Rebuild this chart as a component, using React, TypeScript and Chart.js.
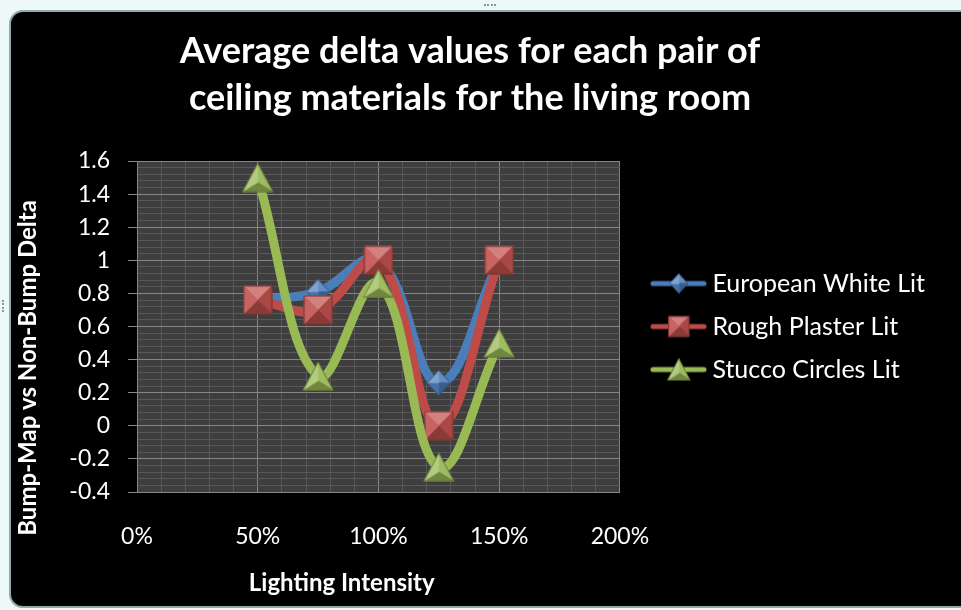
import React, { useEffect, useRef } from "react";
import { Chart, registerables } from "chart.js";

Chart.register(...registerables);

// ---------- data ----------
const lightingIntensity = [0.5, 0.75, 1.0, 1.25, 1.5];
const europeanWhiteLit = [0.76, 0.81, 1.0, 0.26, 1.0];
const roughPlasterLit = [0.76, 0.7, 1.0, 0.0, 1.0];
const stuccoCirclesLit = [1.5, 0.3, 0.86, -0.25, 0.5];
const seriesNames = ["European White Lit", "Rough Plaster Lit", "Stucco Circles Lit"];
const xTickValues = [0, 0.5, 1, 1.5, 2];
const xTickLabels = ["0%", "50%", "100%", "150%", "200%"];
const titleLines = ["Average delta values for each pair of", "ceiling materials for the living room"];
const xTitle = "Lighting Intensity";
const yTitle = "Bump-Map vs Non-Bump Delta";

// ---------- styles ----------
const FONT = "Lato";
const lineColors = ["#4a7ebb", "#be4b48", "#98b954"];
const markerColors = ["#4f81bd", "#c0504d", "#9bbb59"];
const markerShapes = ["diamond", "square", "triangle"];
const MAJOR = "#868686";
const MINOR = "#585858";
const PLOT_BG = "#3e3e3e";

function rgb(h: string) {
  return [parseInt(h.slice(1, 3), 16), parseInt(h.slice(3, 5), 16), parseInt(h.slice(5, 7), 16)];
}
function tint(h: string, k: number) {
  const [r, g, b] = rgb(h);
  const t = k > 0 ? 255 : 0;
  const a = Math.abs(k);
  return `rgb(${Math.round(r + (t - r) * a)},${Math.round(g + (t - g) * a)},${Math.round(b + (t - b) * a)})`;
}
function shapePoints(shape: string, cx: number, cy: number, w: number, h: number) {
  if (shape === "diamond") return [[cx, cy - h / 2], [cx + w / 2, cy], [cx, cy + h / 2], [cx - w / 2, cy]];
  if (shape === "square") return [[cx - w / 2, cy - h / 2], [cx + w / 2, cy - h / 2], [cx + w / 2, cy + h / 2], [cx - w / 2, cy + h / 2]];
  return [[cx, cy - h / 2], [cx + w / 2, cy + h / 2], [cx - w / 2, cy + h / 2]];
}
function drawBevel(ctx: CanvasRenderingContext2D, shape: string, cx: number, cy: number, w: number, h: number, base: string) {
  const pts = shapePoints(shape, cx, cy, w, h);
  const apex = shape === "triangle" ? [cx, cy + h / 6] : [cx, cy];
  const lx = -0.4, ly = -1;
  const ln = Math.hypot(lx, ly);
  for (let i = 0; i < pts.length; i++) {
    const a = pts[i], b = pts[(i + 1) % pts.length];
    let nx = b[1] - a[1], ny = -(b[0] - a[0]);
    const nn = Math.hypot(nx, ny);
    nx /= nn; ny /= nn;
    const s = (nx * lx + ny * ly) / ln;
    const c = tint(base, s * 0.3);
    ctx.fillStyle = c;
    ctx.strokeStyle = c;
    ctx.lineWidth = 0.6;
    ctx.beginPath();
    ctx.moveTo(a[0], a[1]);
    ctx.lineTo(b[0], b[1]);
    ctx.lineTo(apex[0], apex[1]);
    ctx.closePath();
    ctx.fill();
    ctx.stroke();
  }
  ctx.strokeStyle = tint(base, -0.35);
  ctx.lineWidth = 1;
  ctx.beginPath();
  pts.forEach((p, i) => (i ? ctx.lineTo(p[0], p[1]) : ctx.moveTo(p[0], p[1])));
  ctx.closePath();
  ctx.stroke();
}
function makeCanvas(w: number, h: number, draw: (ctx: CanvasRenderingContext2D) => void) {
  const c = document.createElement("canvas");
  c.width = w;
  c.height = h;
  draw(c.getContext("2d")!);
  return c;
}
const plotSizes = [[23, 25], [28, 28], [30, 28]];
const legendSizes = [[18, 19], [20, 20], [22, 21]];

function isMult(v: number, m: number) {
  return Math.abs(v / m - Math.round(v / m)) < 1e-6;
}

const plotBg = {
  id: "plotBg",
  beforeDraw(chart: any) {
    const { ctx, chartArea: a } = chart;
    ctx.save();
    ctx.fillStyle = PLOT_BG;
    ctx.fillRect(a.left, a.top, a.right - a.left, a.bottom - a.top);
    ctx.restore();
  },
};
const axisTitles = {
  id: "axisTitles",
  afterDraw(chart: any) {
    const { ctx, chartArea: a } = chart;
    ctx.save();
    ctx.fillStyle = "#ffffff";
    ctx.textAlign = "center";
    ctx.textBaseline = "middle";
    ctx.font = `bold 24px ${FONT}`;
    ctx.fillText(xTitle, a.left + (a.right - a.left) * 0.424, a.bottom + 91);
    ctx.translate(a.left - 109, a.top + (a.bottom - a.top) * 0.625);
    ctx.rotate(-Math.PI / 2);
    ctx.fillText(yTitle, 0, 0);
    ctx.restore();
  },
};

export default function App() {
  const ref = useRef<HTMLCanvasElement>(null);
  useEffect(() => {
    const canvas = ref.current!;
    const plotMarkers = markerShapes.map((s, i) => {
      const [w, h] = plotSizes[i];
      return makeCanvas(w + 2, h + 2, (ctx) => drawBevel(ctx, s, (w + 2) / 2, (h + 2) / 2, w, h, markerColors[i]));
    });
    const legendImgs = markerShapes.map((s, i) => {
      const [w, h] = legendSizes[i];
      return makeCanvas(76, 26, (ctx) => {
        ctx.strokeStyle = lineColors[i];
        ctx.lineWidth = 5;
        ctx.lineCap = "round";
        ctx.beginPath();
        ctx.moveTo(22, 13);
        ctx.lineTo(73, 13);
        ctx.stroke();
        drawBevel(ctx, s, 48, 13, w, h, markerColors[i]);
      });
    });
    const seriesValues = [europeanWhiteLit, roughPlasterLit, stuccoCirclesLit];
    const chart = new Chart(canvas, {
      type: "line",
      data: {
        datasets: seriesValues.map((vals, i) => ({
          label: seriesNames[i],
          data: lightingIntensity.map((x, j) => ({ x, y: vals[j] })),
          borderColor: lineColors[i],
          backgroundColor: markerColors[i],
          borderWidth: 9,
          borderCapStyle: "round",
          borderJoinStyle: "round",
          tension: 0.4,
          pointStyle: plotMarkers[i],
          pointRadius: 12,
          fill: false,
          order: 3 - i,
        })),
      },
      options: {
        responsive: false,
        animation: false,
        devicePixelRatio: 1,
        layout: { padding: { left: 5, right: 26, top: 0, bottom: 0 } },
        plugins: {
          title: {
            display: true,
            text: titleLines,
            color: "#ffffff",
            font: { family: FONT, size: 36, weight: "bold", lineHeight: 1.306 },
            padding: { top: 28, bottom: 39 },
          },
          legend: {
            position: "right",
            align: "center",
            fullSize: false,
            maxWidth: 317,
            labels: {
              usePointStyle: true,
              pointStyleWidth: 62,
              padding: 18,
              color: "#ffffff",
              font: { family: FONT, size: 25 },
              generateLabels: () =>
                seriesNames.map((t, i) => ({
                  text: t,
                  pointStyle: legendImgs[i],
                  fillStyle: "transparent",
                  strokeStyle: "transparent",
                  lineWidth: 0,
                  hidden: false,
                  datasetIndex: i,
                  fontColor: "#ffffff",
                })),
            },
          },
          tooltip: { enabled: false },
        },
        scales: {
          x: {
            type: "linear",
            min: 0,
            max: 2,
            afterFit: (s: any) => { s.height = 118; },
            ticks: {
              stepSize: 0.1,
              autoSkip: false,
              maxRotation: 0,
              minRotation: 0,
              padding: 31,
              color: "#ffffff",
              font: { family: FONT, size: 23 },
              callback: (v: any) => {
                const k = xTickValues.findIndex((t) => Math.abs(t - v) < 1e-6);
                return k >= 0 ? xTickLabels[k] : "";
              },
            },
            grid: {
              drawTicks: false,
              color: (c: any) => (isMult(c.tick.value, 0.5) ? MAJOR : MINOR),
            },
            border: { color: MAJOR },
          },
          y: {
            type: "linear",
            min: -0.4,
            max: 1.6,
            afterFit: (s: any) => { s.width = 132; },
            ticks: {
              stepSize: 0.04,
              autoSkip: false,
              padding: 18,
              color: "#ffffff",
              font: { family: FONT, size: 23 },
              callback: (v: any) => (isMult(v, 0.2) ? String(Math.round(v * 10) / 10) : ""),
            },
            grid: {
              tickLength: 9,
              color: (c: any) => (isMult(c.tick.value, 0.2) ? MAJOR : MINOR),
              tickColor: (c: any) => (isMult(c.tick.value, 0.2) ? MAJOR : "rgba(0,0,0,0)"),
            },
            border: { color: MAJOR },
          },
        },
      } as any,
      plugins: [plotBg, axisTitles],
    });
    return () => chart.destroy();
  }, []);

  return (
    <div style={{ position: "fixed", left: 0, top: 0, width: 961, height: 610, overflow: "hidden", background: "#eef8f8" }}>
      <div style={{ position: "absolute", left: 484, top: 4, width: 12, height: 0, borderTop: "2px dotted #8a9898" }} />
      <div style={{ position: "absolute", left: 2, top: 300, width: 0, height: 12, borderLeft: "2px dotted #8a9898" }} />
      <div
        style={{
          position: "absolute",
          left: 9,
          top: 10,
          width: 990,
          height: 598,
          background: "#000",
          borderRadius: 14,
          border: "2px solid #93a8a8",
          boxSizing: "border-box",
        }}
      />
      <canvas ref={ref} width={961} height={610} style={{ position: "absolute", left: 0, top: 0, width: 961, height: 610 }} />
    </div>
  );
}
